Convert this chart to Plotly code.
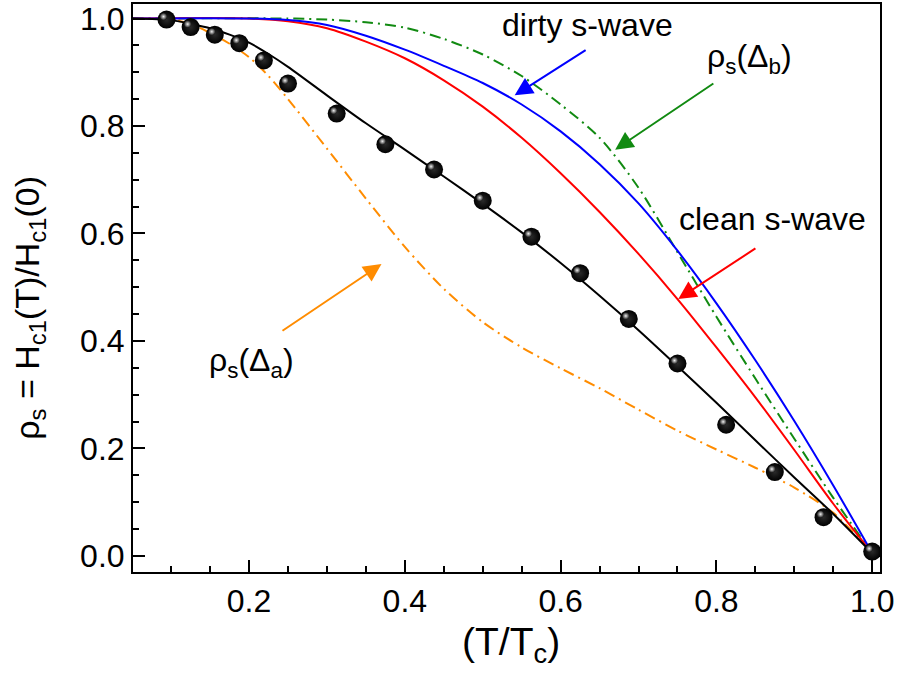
import plotly.graph_objects as go

# Measured superfluid density rho_s = Hc1(T)/Hc1(0) versus reduced temperature
t_data = [0.094, 0.125, 0.156, 0.1875, 0.219, 0.25, 0.3125, 0.375, 0.4375, 0.5,
          0.5625, 0.625, 0.6875, 0.75, 0.8125, 0.875, 0.9375, 1.0]
rho_data = [0.998, 0.984, 0.970, 0.954, 0.922, 0.879, 0.823, 0.766, 0.719, 0.661,
            0.594, 0.526, 0.441, 0.358, 0.244, 0.156, 0.072, 0.008]

# Two-gap fit (black solid)
t_fit = [0.05, 0.10, 0.125, 0.15, 0.175, 0.20, 0.225, 0.25, 0.30, 0.35, 0.40, 0.45,
         0.50, 0.55, 0.60, 0.65, 0.70, 0.75, 0.80, 0.85, 0.90, 0.95, 1.0]
rho_fit = [1.0, 0.997, 0.990, 0.982, 0.970, 0.955, 0.934, 0.910, 0.857, 0.805, 0.756,
           0.706, 0.655, 0.602, 0.545, 0.484, 0.420, 0.353, 0.285, 0.215, 0.146,
           0.078, 0.005]

# Dirty-limit s-wave (blue)
t_dirty = [0.05, 0.20, 0.25, 0.30, 0.35, 0.40, 0.45, 0.50, 0.55, 0.60, 0.65, 0.70,
           0.75, 0.80, 0.85, 0.90, 0.95, 1.0]
rho_dirty = [1.0, 1.0, 0.997, 0.988, 0.968, 0.942, 0.912, 0.880, 0.840, 0.790, 0.729,
             0.656, 0.568, 0.470, 0.364, 0.251, 0.131, 0.005]

# Clean-limit s-wave (red)
t_clean = [0.05, 0.20, 0.25, 0.30, 0.35, 0.40, 0.45, 0.50, 0.55, 0.60, 0.65, 0.70,
           0.75, 0.80, 0.85, 0.90, 0.95, 1.0]
rho_clean = [1.0, 1.0, 0.995, 0.982, 0.957, 0.926, 0.885, 0.836, 0.778, 0.712, 0.640,
             0.562, 0.478, 0.388, 0.295, 0.197, 0.097, 0.005]

# Large-gap component rho_s(Delta_b) (green dash-dot)
t_gap_b = [0.05, 0.25, 0.30, 0.35, 0.40, 0.45, 0.50, 0.55, 0.60, 0.65, 0.70, 0.75,
           0.80, 0.85, 0.90, 0.95, 1.0]
rho_gap_b = [1.0, 1.0, 0.998, 0.993, 0.983, 0.962, 0.933, 0.893, 0.840, 0.778, 0.685,
             0.565, 0.445, 0.330, 0.218, 0.108, 0.005]

# Small-gap component rho_s(Delta_a) (orange dash-dot)
t_gap_a = [0.05, 0.10, 0.125, 0.15, 0.175, 0.20, 0.225, 0.25, 0.30, 0.35, 0.40, 0.45,
           0.50, 0.55, 0.60, 0.65, 0.70, 0.75, 0.80, 0.85, 0.90, 0.95, 1.0]
rho_gap_a = [1.0, 0.998, 0.990, 0.973, 0.953, 0.928, 0.893, 0.850, 0.758, 0.665, 0.575,
             0.497, 0.435, 0.388, 0.349, 0.312, 0.272, 0.233, 0.198, 0.164, 0.127,
             0.080, 0.005]

x_ticks = [0.2, 0.4, 0.6, 0.8, 1.0]
y_ticks = [0.0, 0.2, 0.4, 0.6, 0.8, 1.0]

X_RANGE = [0.051, 1.01]
Y_RANGE = [-0.03, 1.027]

FONT = "Liberation Sans, Arial, sans-serif"
GREEN = "#118a11"
ORANGE = "#ff8c00"
DASHDOT = "11px,5px,2px,5px"

fig = go.Figure()

fig.add_trace(go.Scatter(x=t_gap_a, y=rho_gap_a, mode="lines",
                         line=dict(color=ORANGE, width=2, dash=DASHDOT,
                                   shape="spline", smoothing=0.8)))
fig.add_trace(go.Scatter(x=t_gap_b, y=rho_gap_b, mode="lines",
                         line=dict(color=GREEN, width=2, dash=DASHDOT,
                                   shape="spline", smoothing=0.8)))
fig.add_trace(go.Scatter(x=t_clean, y=rho_clean, mode="lines",
                         line=dict(color="#ff0000", width=2, shape="spline", smoothing=0.8)))
fig.add_trace(go.Scatter(x=t_dirty, y=rho_dirty, mode="lines",
                         line=dict(color="#0000ff", width=2, shape="spline", smoothing=0.8)))
fig.add_trace(go.Scatter(x=t_fit, y=rho_fit, mode="lines",
                         line=dict(color="black", width=2, shape="spline", smoothing=0.8)))
fig.add_trace(go.Scatter(x=t_data, y=rho_data, mode="markers",
                         marker=dict(size=18, color="black", line=dict(width=0),
                                     gradient=dict(type="radial", color="#2a2a2a"))))
# Specular highlight on each ball, drawn on an overlay axis pair nudged up-left
fig.add_trace(go.Scatter(x=t_data, y=rho_data, mode="markers", xaxis="x2", yaxis="y2",
                         marker=dict(size=7, color="#202020", line=dict(width=0),
                                     gradient=dict(type="radial", color="#f0f0f0"))))

# Curve labels and their pointer arrows
labels = [
    ("dirty s-wave", 0.634, 0.988),
    ("ρ<sub>s</sub>(Δ<sub>b</sub>)", 0.843, 0.925),
    ("clean s-wave", 0.872, 0.626),
    ("ρ<sub>s</sub>(Δ<sub>a</sub>)", 0.203, 0.360),
]
for text, lx, ly in labels:
    fig.add_annotation(x=lx, y=ly, xref="x", yref="y", text=text, showarrow=False,
                       font=dict(family=FONT, size=32, color="black"))

arrows = [
    ((0.634, 0.943), (0.541, 0.857), "#0000ff"),
    ((0.798, 0.881), (0.670, 0.756), GREEN),
    ((0.852, 0.574), (0.751, 0.478), "#ff0000"),
    ((0.241, 0.417), (0.370, 0.543), ORANGE),
]
for (tx, ty), (hx, hy), col in arrows:
    fig.add_annotation(x=hx, y=hy, ax=tx, ay=ty, xref="x", yref="y", axref="x", ayref="y",
                       text="", showarrow=True, arrowhead=2, arrowsize=1.8,
                       arrowwidth=2, arrowcolor=col)

# Axis titles
fig.add_annotation(x=-0.138, y=0.465, xref="paper", yref="paper", textangle=-90,
                   xanchor="center", yanchor="middle", showarrow=False,
                   text="ρ<sub>s</sub> = H<sub>c1</sub>(T)/H<sub>c1</sub>(0)",
                   font=dict(family=FONT, size=34, color="black"))
fig.add_annotation(x=0.506, y=-0.128, xref="paper", yref="paper",
                   xanchor="center", yanchor="middle", showarrow=False,
                   text="(T/T<sub>c</sub>)",
                   font=dict(family=FONT, size=39, color="black"))

axis_common = dict(showline=True, linewidth=2, linecolor="black", mirror=True,
                   ticks="inside", ticklen=12, tickwidth=2, tickcolor="black",
                   showgrid=False, zeroline=False,
                   tickfont=dict(family=FONT, size=32, color="black"))
minor_ticks = dict(dtick=0.05, tick0=0, ticks="inside", ticklen=6,
                   tickwidth=2, tickcolor="black")

fig.update_xaxes(range=X_RANGE, tickvals=x_ticks,
                 ticktext=[f"{v:.1f}" for v in x_ticks], minor=minor_ticks,
                 **axis_common)
fig.update_yaxes(range=Y_RANGE, tickvals=y_ticks,
                 ticktext=[f"{v:.1f}" for v in y_ticks], minor=minor_ticks,
                 **axis_common)

# Overlay axes: same scale as the main ones, shifted by ~3 px left and up
px_x = (X_RANGE[1] - X_RANGE[0]) / 747
px_y = (Y_RANGE[1] - Y_RANGE[0]) / 570
fig.update_layout(
    xaxis2=dict(overlaying="x", range=[X_RANGE[0] + 3 * px_x, X_RANGE[1] + 3 * px_x],
                visible=False),
    yaxis2=dict(overlaying="y", range=[Y_RANGE[0] - 3 * px_y, Y_RANGE[1] - 3 * px_y],
                visible=False),
)

fig.update_layout(width=897, height=686, showlegend=False,
                  margin=dict(l=133, r=17, t=2, b=114),
                  paper_bgcolor="white", plot_bgcolor="white")

fig.write_html("out.html")
